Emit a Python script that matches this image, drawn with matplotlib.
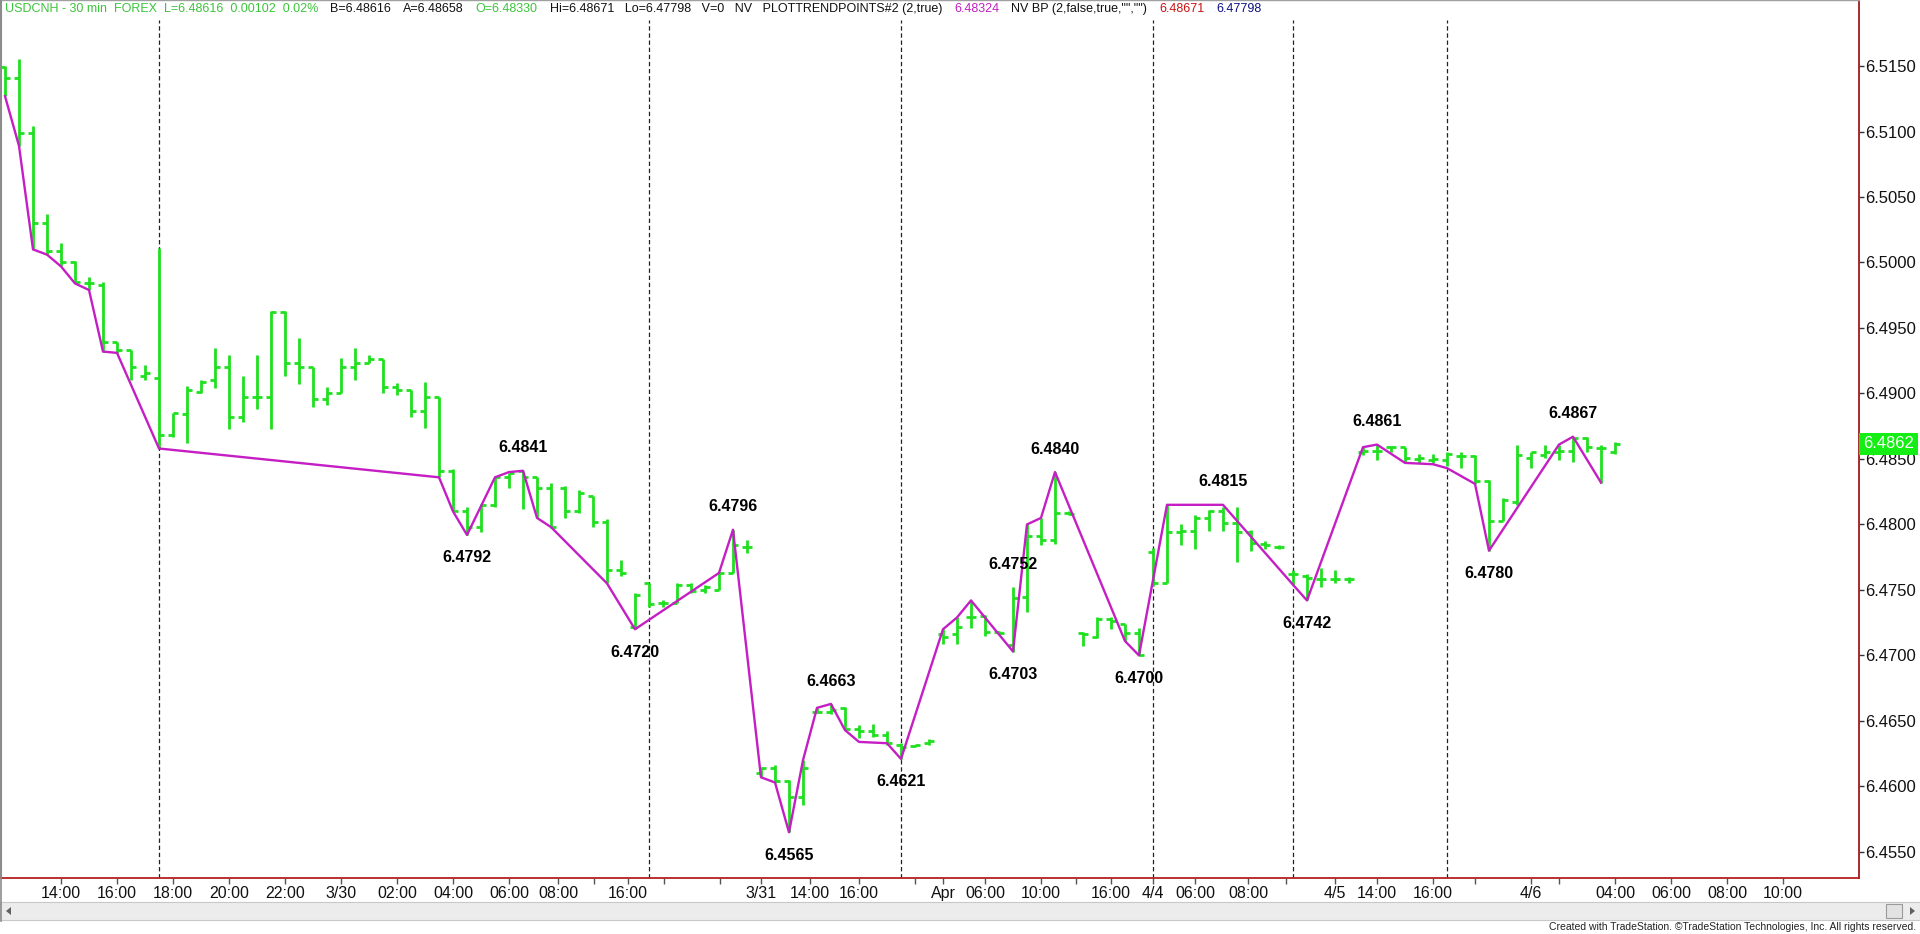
import matplotlib
matplotlib.use("Agg")
import matplotlib.pyplot as plt
from matplotlib.collections import LineCollection
from matplotlib.patches import Rectangle, Polygon
from matplotlib.lines import Line2D
import matplotlib.transforms as mtransforms

plt.rcParams['font.family'] = ['Liberation Sans', 'DejaVu Sans']

# ---------------- data (30-min OHLC bars, bar index = time slot) ----------------
opens = [6.5149, 6.5141, 6.5099, 6.5030, 6.5009, 6.5000, 6.4984, 6.4983, 6.4939, 6.4933,
         6.4913, 6.4912, 6.4868, 6.4884, 6.4901, 6.4910, 6.4920, 6.4882, 6.4897, 6.4897,
         6.4962, 6.4923, 6.4920, 6.4896, 6.4900, 6.4920, 6.4923, 6.4926, 6.4905, 6.4903,
         6.4887, 6.4897, 6.4841, 6.4810, 6.4798, 6.4815, 6.4836, 6.4841, 6.4836, 6.4828,
         6.4828, 6.4810, 6.4822, 6.4802, 6.4765, 6.4722, 6.4755, 6.4740, 6.4740, 6.4754,
         6.4750, 6.4750, 6.4763, 6.4783, 6.4610, 6.4614, 6.4604, 6.4592, 6.4657, 6.4657,
         6.4660, 6.4644, 6.4642, 6.4639, 6.4632, 6.4631, 6.4633, 6.4716, 6.4716, 6.4729,
         6.4730, 6.4718, 6.4708, 6.4745, 6.4791, 6.4788, 6.4809, 6.4717, 6.4714, 6.4728,
         6.4724, 6.4717, 6.4779, 6.4755, 6.4794, 6.4795, 6.4805, 6.4810, 6.4801, 6.4794,
         6.4785, 6.4783, 6.4762, 6.4761, 6.4758, 6.4758, 6.4758, 6.4855, 6.4856, 6.4859,
         6.4859, 6.4850, 6.4849, 6.4849, 6.4852, 6.4852, 6.4833, 6.4803, 6.4817, 6.4851,
         6.4853, 6.4855, 6.4856, 6.4866, 6.4858, 6.4855]
highs = [6.5150, 6.5155, 6.5104, 6.5037, 6.5015, 6.5001, 6.4989, 6.4985, 6.4939, 6.4933,
         6.4922, 6.5011, 6.4885, 6.4906, 6.4910, 6.4935, 6.4929, 6.4913, 6.4929, 6.4963,
         6.4963, 6.4942, 6.4920, 6.4905, 6.4927, 6.4935, 6.4929, 6.4926, 6.4908, 6.4903,
         6.4909, 6.4897, 6.4842, 6.4813, 6.4816, 6.4836, 6.4839, 6.4841, 6.4836, 6.4832,
         6.4829, 6.4826, 6.4822, 6.4804, 6.4773, 6.4748, 6.4755, 6.4742, 6.4755, 6.4755,
         6.4754, 6.4763, 6.4796, 6.4788, 6.4615, 6.4616, 6.4605, 6.4620, 6.4660, 6.4663,
         6.4661, 6.4647, 6.4648, 6.4642, 6.4633, 6.4632, 6.4636, 6.4720, 6.4729, 6.4742,
         6.4731, 6.4719, 6.4752, 6.4800, 6.4805, 6.4840, 6.4810, 6.4718, 6.4729, 6.4729,
         6.4724, 6.4721, 6.4782, 6.4815, 6.4800, 6.4807, 6.4811, 6.4813, 6.4813, 6.4796,
         6.4787, 6.4784, 6.4765, 6.4762, 6.4767, 6.4765, 6.4760, 6.4859, 6.4861, 6.4860,
         6.4859, 6.4854, 6.4854, 6.4855, 6.4855, 6.4853, 6.4834, 6.4820, 6.4861, 6.4855,
         6.4861, 6.4861, 6.4867, 6.4867, 6.4861, 6.4863]
lows = [6.5127, 6.5089, 6.5010, 6.5006, 6.4997, 6.4984, 6.4979, 6.4932, 6.4931, 6.4910,
        6.4910, 6.4858, 6.4867, 6.4862, 6.4900, 6.4904, 6.4873, 6.4878, 6.4888, 6.4873,
        6.4913, 6.4907, 6.4890, 6.4891, 6.4900, 6.4910, 6.4923, 6.4900, 6.4899, 6.4882,
        6.4874, 6.4836, 6.4810, 6.4792, 6.4794, 6.4813, 6.4828, 6.4812, 6.4805, 6.4797,
        6.4805, 6.4809, 6.4798, 6.4755, 6.4761, 6.4720, 6.4737, 6.4737, 6.4740, 6.4748,
        6.4748, 6.4750, 6.4763, 6.4778, 6.4607, 6.4603, 6.4565, 6.4586, 6.4656, 6.4655,
        6.4643, 6.4637, 6.4638, 6.4632, 6.4621, 6.4630, 6.4632, 6.4709, 6.4709, 6.4721,
        6.4715, 6.4716, 6.4703, 6.4733, 6.4784, 6.4785, 6.4807, 6.4707, 6.4713, 6.4720,
        6.4711, 6.4700, 6.4753, 6.4755, 6.4784, 6.4781, 6.4795, 6.4795, 6.4771, 6.4780,
        6.4781, 6.4781, 6.4754, 6.4742, 6.4752, 6.4755, 6.4755, 6.4853, 6.4849, 6.4855,
        6.4848, 6.4847, 6.4847, 6.4845, 6.4843, 6.4831, 6.4780, 6.4803, 6.4815, 6.4843,
        6.4851, 6.4849, 6.4848, 6.4855, 6.4832, 6.4854]
closes = [6.5141, 6.5099, 6.5030, 6.5009, 6.5000, 6.4985, 6.4984, 6.4939, 6.4933, 6.4920,
          6.4916, 6.4868, 6.4885, 6.4903, 6.4909, 6.4920, 6.4882, 6.4897, 6.4897, 6.4962,
          6.4923, 6.4920, 6.4896, 6.4900, 6.4920, 6.4923, 6.4926, 6.4905, 6.4903, 6.4887,
          6.4897, 6.4841, 6.4810, 6.4798, 6.4815, 6.4836, 6.4839, 6.4836, 6.4828, 6.4798,
          6.4810, 6.4824, 6.4802, 6.4765, 6.4763, 6.4746, 6.4739, 6.4740, 6.4754, 6.4749,
          6.4752, 6.4763, 6.4784, 6.4783, 6.4614, 6.4604, 6.4592, 6.4614, 6.4657, 6.4658,
          6.4644, 6.4642, 6.4639, 6.4633, 6.4630, 6.4632, 6.4635, 6.4714, 6.4722, 6.4729,
          6.4718, 6.4717, 6.4744, 6.4791, 6.4788, 6.4809, 6.4808, 6.4716, 6.4728, 6.4726,
          6.4717, 6.4700, 6.4755, 6.4794, 6.4795, 6.4805, 6.4810, 6.4801, 6.4794, 6.4786,
          6.4784, 6.4783, 6.4762, 6.4759, 6.4758, 6.4758, 6.4758, 6.4856, 6.4856, 6.4859,
          6.4851, 6.4851, 6.4850, 6.4854, 6.4852, 6.4833, 6.4803, 6.4819, 6.4853, 6.4855,
          6.4855, 6.4856, 6.4866, 6.4859, 6.4858, 6.48616]

# trend-point (magenta) line vertices: bar index and price
trend_bars = [0, 1, 2, 3, 4, 5, 6, 7, 8, 11, 31, 32, 33, 35, 36, 37, 38, 39, 43, 45,
              51, 52, 54, 55, 56, 57, 58, 59, 60, 61, 63, 64, 67, 68, 69, 72, 73, 74, 75,
              80, 81, 83, 87, 92, 93, 97, 98, 100, 102, 103, 105, 106, 111, 112, 114]
trend_prices = [6.5127, 6.5089, 6.5010, 6.5006, 6.4997, 6.4984, 6.4979, 6.4932, 6.4931,
                6.4858, 6.4836, 6.4810, 6.4792, 6.4836, 6.4840, 6.4841, 6.4805, 6.4798,
                6.4755, 6.4720, 6.4763, 6.4796, 6.4607, 6.4603, 6.4565, 6.4620, 6.4660,
                6.4663, 6.4643, 6.4634, 6.4633, 6.4621, 6.4720, 6.4729, 6.4742, 6.4703,
                6.4800, 6.4805, 6.4840, 6.4711, 6.4700, 6.4815, 6.4815, 6.4754, 6.4742,
                6.4859, 6.4861, 6.4847, 6.4846, 6.4843, 6.4831, 6.4780, 6.4861, 6.4867,
                6.4832]

# labelled swing points: bar, price, side (+1 above, -1 below)
pivot_bars = [37, 33, 45, 52, 56, 59, 64, 72, 72, 75, 81, 87, 93, 98, 106, 112]
pivot_prices = [6.4841, 6.4792, 6.4720, 6.4796, 6.4565, 6.4663, 6.4621, 6.4752, 6.4703,
                6.4840, 6.4700, 6.4815, 6.4742, 6.4861, 6.4780, 6.4867]
pivot_side = [1, -1, -1, 1, -1, 1, -1, 1, -1, 1, -1, 1, -1, 1, -1, 1]

session_breaks = [11, 46, 64, 82, 92, 103]

xtick_pos = [4, 8, 12, 16, 20, 24, 28, 32, 36, 39.5, 44.5, 54, 57.5, 61, 67, 70, 74, 79,
             82, 85, 88.8, 95, 98, 102, 109, 115, 119, 123, 127]
xtick_labels = ['14:00', '16:00', '18:00', '20:00', '22:00', '3/30', '02:00', '04:00',
                '06:00', '08:00', '16:00', '3/31', '14:00', '16:00', 'Apr', '06:00', '10:00',
                '16:00', '4/4', '06:00', '08:00', '4/5', '14:00', '16:00', '4/6', '04:00',
                '06:00', '08:00', '10:00']
xminor_pos = [42.1, 47.1, 51.1, 65, 76.5, 91.5, 105, 111]

ytick_values = [6.4550, 6.4600, 6.4650, 6.4700, 6.4750, 6.4800, 6.4850, 6.4900, 6.4950,
                6.5000, 6.5050, 6.5100, 6.5150]
last_price = 6.48616

header_parts = [
    ("USDCNH - 30 min  FOREX  L=6.48616  0.00102  0.02%", '#3cc43c'),
    ("B=6.48616", '#111111'),
    ("A=6.48658", '#111111'),
    ("O=6.48330", '#3cc43c'),
    ("Hi=6.48671   Lo=6.47798   V=0   NV   PLOTTRENDPOINTS#2 (2,true)", '#111111'),
    ("6.48324", '#c020c0'),
    ('NV BP (2,false,true,"","")', '#111111'),
    ("6.48671", '#cc1111'),
    ("6.47798", '#101080'),
]
footer = "Created with TradeStation. \u00a9TradeStation Technologies, Inc. All rights reserved."

# ---------------- figure ----------------
W, H, DPI = 1920, 934, 100
fig = plt.figure(figsize=(W / DPI, H / DPI), dpi=DPI)
fig.patch.set_facecolor('white')

PX_L, PX_R, PX_T, PX_B = 1, 1859, 0, 878
ax = fig.add_axes([PX_L / W, 1 - PX_B / H, (PX_R - PX_L) / W, (PX_B - PX_T) / H])
ax.set_facecolor('white')
ax.set_xlim(-0.286, 132.43)
ax.set_ylim(6.45301, 6.52004)

GREEN = '#1fe01f'
half = 0.37
bars = list(range(len(opens)))
segs = []
for i, o, h, l, c in zip(bars, opens, highs, lows, closes):
    segs.append([(i, l), (i, h)])
    segs.append([(i - half, o), (i, o)])
    segs.append([(i, c), (i + half, c)])
ax.add_collection(LineCollection(segs, colors=GREEN, linewidths=2.0,
                                 capstyle='butt', zorder=3))

# session separators
for s in session_breaks:
    ax.axvline(s, ymin=0, ymax=(PX_B - 20) / (PX_B - PX_T), color='#222222', lw=0.9,
               ls=(0, (3.5, 2.2)), zorder=1)

# trend line
ax.plot(trend_bars, trend_prices, color='#c41ec4', lw=1.7, zorder=4,
        solid_joinstyle='round')

# swing labels
for b, p, s in zip(pivot_bars, pivot_prices, pivot_side):
    ax.annotate(f'{p:.4f}', xy=(b, p), xytext=(0, 16.5 * s), textcoords='offset points',
                ha='center', va='center', fontsize=11.5, fontweight='bold',
                color='black', zorder=6)

# axes styling
for side, col, lw in [('right', '#9e1a1a', 1.3), ('bottom', '#b52020', 1.3),
                      ('left', '#8c8c8c', 1.5), ('top', '#a0a0a0', 1.0)]:
    ax.spines[side].set_color(col)
    ax.spines[side].set_linewidth(lw)

ax.yaxis.tick_right()
ax.set_yticks(ytick_values)
ax.set_yticklabels([f'{v:.4f}' for v in ytick_values])
ax.tick_params(axis='y', which='both', direction='out', length=3.6, width=1,
               color='#333333', labelsize=12, pad=1, labelcolor='#111111')

ax.set_xticks(xtick_pos)
ax.set_xticklabels(xtick_labels)
ax.set_xticks(xminor_pos, minor=True)
ax.tick_params(axis='x', which='both', direction='out', length=4.3, width=1,
               color='#555555', labelsize=11.5, pad=1.2, labelcolor='#111111')

# last price marker on the price scale
trans = mtransforms.blended_transform_factory(ax.transAxes, ax.transData)
trans = trans + mtransforms.ScaledTranslation(4 / DPI, 0, fig.dpi_scale_trans)
ax.text(1.0, last_price, f'{last_price:.4f}', transform=trans, ha='left', va='center',
        color='white', fontsize=12, clip_on=False, zorder=10,
        bbox=dict(boxstyle='square,pad=0.22', fc='#14ee14', ec='none'))

# header line
renderer = fig.canvas.get_renderer()
x = 5
for txt, col in header_parts:
    t = fig.text(x / W, 1 - 9 / H, txt, color=col, fontsize=9, ha='left', va='center')
    bb = t.get_window_extent(renderer)
    x = bb.x1 + 12

# scrollbar
def fy(py):
    return 1 - py / H

fig.add_artist(Rectangle((0, fy(920)), 1, 18 / H, transform=fig.transFigure,
                         fc='#ececec', ec='#c8c8c8', lw=0.8))
fig.add_artist(Polygon([(6 / W, fy(911)), (11 / W, fy(907)), (11 / W, fy(915))],
                       closed=True, transform=fig.transFigure, fc='#606060', ec='none'))
fig.add_artist(Rectangle((1886 / W, fy(918)), 16 / W, 14 / H, transform=fig.transFigure,
                         fc='#e2e2e2', ec='#9a9a9a', lw=0.8))
fig.add_artist(Polygon([(1915 / W, fy(911)), (1910 / W, fy(907)), (1910 / W, fy(915))],
                       closed=True, transform=fig.transFigure, fc='#606060', ec='none'))
fig.add_artist(Line2D([0.6 / W, 0.6 / W], [fy(921), 1], transform=fig.transFigure,
                      color='#8c8c8c', lw=1.2))

fig.text(1916 / W, fy(927), footer, ha='right', va='center', fontsize=7.5, color='#222222')

fig.savefig('out.png', dpi=DPI, facecolor='white')
